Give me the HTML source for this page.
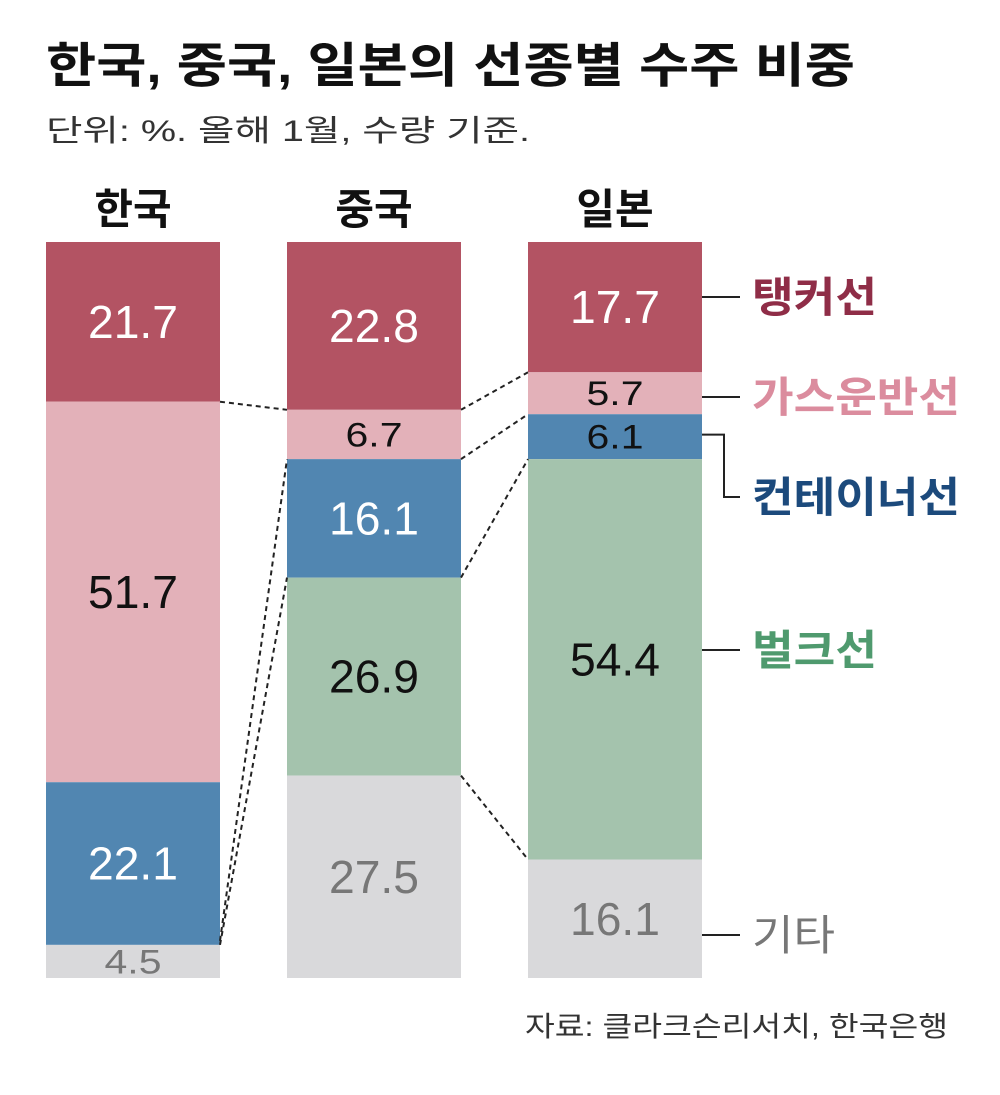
<!DOCTYPE html>
<html><head><meta charset="utf-8"><style>
body{margin:0;background:#fff;}
svg text{font-family:"Liberation Sans","Noto Sans CJK KR",sans-serif;}
</style></head><body>
<svg width="1000" height="1090" viewBox="0 0 1000 1090" xmlns="http://www.w3.org/2000/svg">
<text x="46" y="82" font-size="48" font-weight="bold" fill="#111" textLength="809" lengthAdjust="spacingAndGlyphs">한국, 중국, 일본의 선종별 수주 비중</text>
<text x="46" y="141" font-size="30" fill="#333" textLength="484" lengthAdjust="spacingAndGlyphs">단위: %. 올해 1월, 수량 기준.</text>
<g id="bars"></g>
<g id="conn"></g>
<g id="legend"></g>
<text x="525" y="1036" font-size="28" fill="#333" textLength="423" lengthAdjust="spacingAndGlyphs">자료: 클라크슨리서치, 한국은행</text>
</svg>
<script>
const countries=["한국","중국","일본"];
const types=["탱커선","가스운반선","컨테이너선","벌크선","기타"];
const korea=[21.7,51.7,22.1,0,4.5];
const china=[22.8,6.7,16.1,26.9,27.5];
const japan=[17.7,5.7,6.1,54.4,16.1];
const series=[korea,china,japan];
const fills=["#b35363","#e3b1b9","#5186b1","#a4c3ad","#d9d9db"];
const textCols=["#fff","#111","#fff","#111","#777"];
const legCols=["#8f2d47","#db8c9e","#1c4a7c","#4f9a6e","#777"];
const legW=[125,208,208,125,83];
const NS="http://www.w3.org/2000/svg";
const top0=242,H=736,W=174,xs=[46,287,528];
function y(v){return top0+v/100*H;}
function mk(t,a,p){const e=document.createElementNS(NS,t);for(const k in a)e.setAttribute(k,a[k]);p.appendChild(e);return e;}
const gb=document.getElementById('bars');
const bounds=[];
series.forEach((s,ci)=>{
  const x=xs[ci];let cum=0;const b=[y(0)];
  const h=mk('text',{x:x+W/2,y:224,'font-size':42,'font-weight':'bold','text-anchor':'middle',fill:'#111'},gb);
  
  
  h.textContent=countries[ci];
  s.forEach((v,i)=>{
    const y1=y(cum),y2=y(cum+v);cum+=v;b.push(y2);
    if(v<=0)return;
    const r=mk('rect',{x:x,y:y1,width:W,height:y2-y1,fill:fills[i]},gb);
    
    
    const small=(y2-y1)<50;
    const txt=v.toFixed(1);
    const t=mk('text',{x:x+W/2,y:(y1+y2)/2+(small?12:16),'font-size':small?34:46,'text-anchor':'middle',fill:(small&&i===2)?'#111':textCols[i],textLength:(small?19:22.5)*txt.length-(small?0:0),lengthAdjust:'spacingAndGlyphs'},gb);
    
    
    t.textContent=txt;
  });
  bounds.push(b);
});
const gc=document.getElementById('conn');
function line(x1,y1,x2,y2,nm){const l=mk('line',{x1,y1,x2,y2,stroke:'#222','stroke-width':2,'stroke-dasharray':'5,4'},gc);

}
line(xs[0]+W,bounds[0][1],xs[1],bounds[1][1],'connector-k-c-1');
line(xs[0]+W,bounds[0][3]-4,xs[1],bounds[1][2],'connector-k-c-2');
line(xs[0]+W,bounds[0][3],xs[1],bounds[1][3],'connector-k-c-3');
for(let i=1;i<=4;i++)line(xs[1]+W,bounds[1][i],xs[2],bounds[2][i],'connector-c-j-'+i);
const gl=document.getElementById('legend');
const b=bounds[2];const lx=xs[2]+W;
const legY=[297,397,497,650,935];
legY.forEach((ly,i)=>{
  let d;
  if(i===2){const sy=(b[2]+b[3])/2-2;d=`M${lx} ${sy}H${lx+22}V${ly}H${lx+38}`;}
  else d=`M${lx} ${ly}H${lx+38}`;
  const p=mk('path',{d,stroke:'#222','stroke-width':2,fill:'none'},gl);
  
  
  const t=mk('text',{x:lx+50,y:ly+15,'font-size':42,'font-weight':i<4?'bold':'normal',fill:legCols[i],textLength:legW[i],lengthAdjust:'spacingAndGlyphs'},gl);
  
  
  t.textContent=types[i];
});
</script>
</body></html>
